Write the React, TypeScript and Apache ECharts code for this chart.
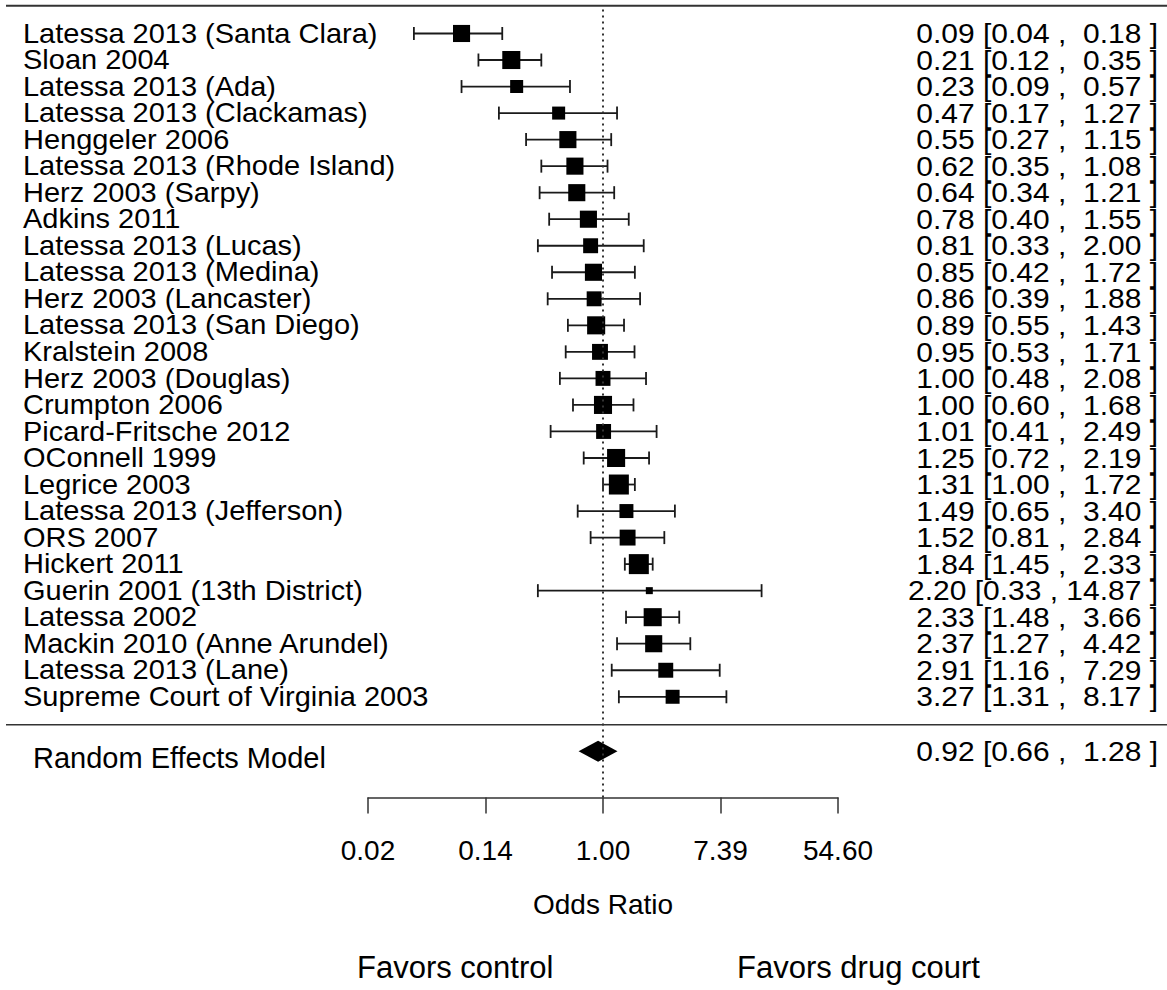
import { useEffect, useRef } from 'react';
import * as echarts from 'echarts';

const STUDIES = [
  'Latessa 2013 (Santa Clara)',
  'Sloan 2004',
  'Latessa 2013 (Ada)',
  'Latessa 2013 (Clackamas)',
  'Henggeler 2006',
  'Latessa 2013 (Rhode Island)',
  'Herz 2003 (Sarpy)',
  'Adkins 2011',
  'Latessa 2013 (Lucas)',
  'Latessa 2013 (Medina)',
  'Herz 2003 (Lancaster)',
  'Latessa 2013 (San Diego)',
  'Kralstein 2008',
  'Herz 2003 (Douglas)',
  'Crumpton 2006',
  'Picard-Fritsche 2012',
  'OConnell 1999',
  'Legrice 2003',
  'Latessa 2013 (Jefferson)',
  'ORS 2007',
  'Hickert 2011',
  'Guerin 2001 (13th District)',
  'Latessa 2002',
  'Mackin 2010 (Anne Arundel)',
  'Latessa 2013 (Lane)',
  'Supreme Court of Virginia 2003',
];

const ODDS = [
  0.09, 0.21, 0.23, 0.47, 0.55, 0.62, 0.64, 0.78, 0.81, 0.85, 0.86, 0.89, 0.95,
  1.0, 1.0, 1.01, 1.25, 1.31, 1.49, 1.52, 1.84, 2.2, 2.33, 2.37, 2.91, 3.27,
];
const CI_LOW = [
  0.04, 0.12, 0.09, 0.17, 0.27, 0.35, 0.34, 0.4, 0.33, 0.42, 0.39, 0.55, 0.53,
  0.48, 0.6, 0.41, 0.72, 1.0, 0.65, 0.81, 1.45, 0.33, 1.48, 1.27, 1.16, 1.31,
];
const CI_HIGH = [
  0.18, 0.35, 0.57, 1.27, 1.15, 1.08, 1.21, 1.55, 2.0, 1.72, 1.88, 1.43, 1.71,
  2.08, 1.68, 2.49, 2.19, 1.72, 3.4, 2.84, 2.33, 14.87, 3.66, 4.42, 7.29, 8.17,
];
// relative study weights (%)
const WEIGHTS = [
  4.8, 5.2, 3.1, 3.1, 4.8, 4.8, 4.8, 4.8, 3.9, 4.8, 3.9, 5.2, 4.3, 3.9, 5.2,
  3.9, 5.2, 6.0, 3.5, 4.3, 6.0, 0.6, 5.2, 4.8, 3.9, 3.5,
];

const SUMMARY_LABEL = 'Random Effects Model';
const SUMMARY_OR = [0.92, 0.66, 1.28];

const X_TICKS_LOG = [-4, -2, 0, 2, 4];
const AXIS_TITLE = 'Odds Ratio';
const FAVORS = ['Favors control', 'Favors drug court'];

// layout
const FONT = "'Liberation Sans', Arial, sans-serif";
const INK = '#1a1a1a';
const RULE = '#333';
const LABEL_X = 23;
const ANNOT_X = 1158;
const CAP = 6.5;
const BOX_MIN = 7;
const BOX_MAX = 20;
const SUMMARY_ROW = 27.05;
const RULE_ROWS = [-1.05, 26.05];

const fmt = (v: number) => v.toFixed(2);
const annot = (est: number, lo: number, hi: number) =>
  `${fmt(est)} [${fmt(lo)} , ${fmt(hi).padStart(5, ' ')} ]`.replace(/ /g, '\u00A0');

const wMin = Math.min(...WEIGHTS);
const wMax = Math.max(...WEIGHTS);
const boxSize = (w: number) => BOX_MIN + ((w - wMin) / (wMax - wMin)) * (BOX_MAX - BOX_MIN);

export default function App() {
  const ref = useRef<HTMLDivElement>(null);

  useEffect(() => {
    if (!ref.current) return;
    const chart = echarts.init(ref.current, undefined, { renderer: 'svg' });

    const studyData = STUDIES.map((_, i) => [
      Math.log(ODDS[i]),
      i,
      Math.log(CI_LOW[i]),
      Math.log(CI_HIGH[i]),
      WEIGHTS[i],
    ]);

    const textStyle = (text: string, align: string, size: number) => ({
      text,
      fill: '#000',
      fontSize: size,
      lineHeight: 25,
      fontFamily: FONT,
      align,
      verticalAlign: 'middle',
    });

    // row texts are drawn a little narrow-tall in the source, so squash them
    const rowText = (x: number, y: number, text: string, align: string, size: number, width: number) => ({
      type: 'text',
      x,
      y,
      scaleX: width / size,
      style: textStyle(text, align, size),
    });

    const option: echarts.EChartsOption = {
      animation: false,
      backgroundColor: '#fff',
      grid: { left: 368, right: 329, top: 4.3, bottom: 192.4 },
      xAxis: {
        type: 'value',
        min: X_TICKS_LOG[0],
        max: X_TICKS_LOG[X_TICKS_LOG.length - 1],
        interval: 2,
        name: AXIS_TITLE,
        nameLocation: 'middle',
        nameGap: 93,
        nameTextStyle: { color: '#000', fontSize: 28, fontFamily: FONT },
        axisLine: { show: true, onZero: false, lineStyle: { color: RULE, width: 1.5 } },
        axisTick: { show: true, length: 16, lineStyle: { color: RULE, width: 1.5 } },
        axisLabel: {
          color: '#000',
          fontSize: 28,
          fontFamily: FONT,
          margin: 39,
          formatter: (v: number) => fmt(Math.exp(v)),
        },
        splitLine: { show: false },
      },
      yAxis: {
        type: 'value',
        min: -1.1,
        max: 28.8,
        inverse: true,
        show: false,
      },
      series: [
        {
          type: 'custom',
          name: 'rules',
          clip: false,
          silent: true,
          data: RULE_ROWS.map((r) => [0, r]),
          encode: { x: 0, y: 1 },
          renderItem: (params: any, api: any) => {
            const y = api.coord([0, api.value(1)])[1];
            return {
              type: 'line',
              shape: { x1: 6, y1: y, x2: api.getWidth(), y2: y },
              style: { stroke: RULE, lineWidth: params.dataIndex === 0 ? 2 : 1.5 },
            };
          },
        },
        {
          type: 'custom',
          name: 'studies',
          clip: false,
          silent: true,
          data: studyData,
          encode: { x: [0, 2, 3], y: 1 },
          renderItem: (params: any, api: any) => {
            const i = params.dataIndex;
            const row = api.value(1);
            const [xe, y] = api.coord([api.value(0), row]);
            const xl = api.coord([api.value(2), row])[0];
            const xh = api.coord([api.value(3), row])[0];
            const s = boxSize(api.value(4));
            const ls = { stroke: INK, lineWidth: 1.8 };
            return {
              type: 'group',
              children: [
                { type: 'line', shape: { x1: xl, y1: y, x2: xh, y2: y }, style: ls },
                { type: 'line', shape: { x1: xl, y1: y - CAP, x2: xl, y2: y + CAP }, style: ls },
                { type: 'line', shape: { x1: xh, y1: y - CAP, x2: xh, y2: y + CAP }, style: ls },
                {
                  type: 'rect',
                  shape: { x: xe - s / 2, y: y - s / 2, width: s, height: s },
                  style: { fill: '#000' },
                },
                rowText(LABEL_X, y, STUDIES[i], 'left', 27, 29),
                rowText(ANNOT_X, y, annot(ODDS[i], CI_LOW[i], CI_HIGH[i]), 'right', 28, 30),
              ],
            };
          },
          markLine: {
            silent: true,
            symbol: 'none',
            label: { show: false },
            lineStyle: { color: '#333', width: 2, type: [2, 4] },
            data: [[{ coord: [0, -0.9] }, { coord: [0, 28.8] }]],
          },
        },
        {
          type: 'custom',
          name: 'summary',
          clip: false,
          silent: true,
          data: [[Math.log(SUMMARY_OR[0]), SUMMARY_ROW, Math.log(SUMMARY_OR[1]), Math.log(SUMMARY_OR[2])]],
          encode: { x: [0, 2, 3], y: 1 },
          renderItem: (_params: any, api: any) => {
            const row = api.value(1);
            const [xe, y] = api.coord([api.value(0), row]);
            const xl = api.coord([api.value(2), row])[0];
            const xh = api.coord([api.value(3), row])[0];
            const h = 10.5;
            return {
              type: 'group',
              children: [
                {
                  type: 'polygon',
                  shape: { points: [[xl, y], [xe, y - h], [xh, y], [xe, y + h]] },
                  style: { fill: '#000' },
                },
                { type: 'text', x: 33, y: y + 7, style: textStyle(SUMMARY_LABEL, 'left', 29) },
                rowText(ANNOT_X, y, annot(SUMMARY_OR[0], SUMMARY_OR[1], SUMMARY_OR[2]), 'right', 28, 30),
              ],
            };
          },
        },
      ],
      graphic: [
        {
          type: 'text',
          left: 357,
          top: 952,
          style: { text: FAVORS[0], fill: '#000', fontSize: 31, fontFamily: FONT },
        },
        {
          type: 'text',
          left: 737,
          top: 952,
          style: { text: FAVORS[1], fill: '#000', fontSize: 31, fontFamily: FONT },
        },
      ],
    };

    chart.setOption(option);
    return () => chart.dispose();
  }, []);

  return (
    <div
      ref={ref}
      style={{ position: 'absolute', left: 0, top: 0, width: 1167, height: 990, background: '#fff' }}
    />
  );
}
